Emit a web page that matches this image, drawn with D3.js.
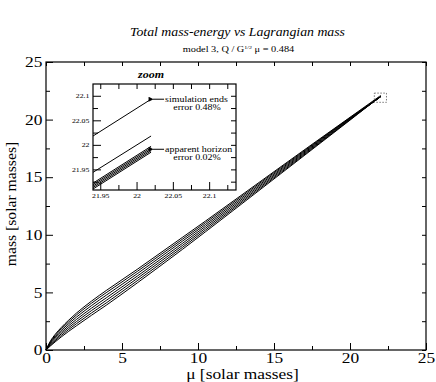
<!DOCTYPE html>
<html>
<head>
<meta charset="utf-8">
<script src="https://cdn.jsdelivr.net/npm/d3@7"></script>
<style>
  body { margin: 0; background: #fff; }
  svg text { font-family: "Liberation Serif", "Times New Roman", serif; fill: #000; }
</style>
</head>
<body>
<div id="chart"></div>
<script>
// Lagrangian mass grid (solar masses)
const muGrid = [0, 0.3, 0.6, 1, 1.5, 2, 3, 4, 5, 6, 7.5, 9, 10.5, 12.5, 15, 17.5, 20, 21.94, 22.02];

// total mass-energy for each run
const runSimEnds = [0, 0.8, 1.35, 1.95, 2.6, 3.2, 4.25, 5.2, 6.1, 7.0, 8.4, 9.8, 11.2, 13.1, 15.48, 17.85, 20.2, 22.018, 22.093];
const runSecond  = [0, 0.73, 1.25, 1.83, 2.45, 3.04, 4.07, 5.01, 5.91, 6.82, 8.23, 9.64, 11.06, 12.98, 15.39, 17.78, 20.16, 21.944, 22.018];
const runC       = [0, 0.66, 1.14, 1.69, 2.29, 2.85, 3.86, 4.79, 5.7, 6.62, 8.04, 9.47, 10.9, 12.84, 15.28, 17.71, 20.12, 21.922, 21.997];
const runD       = [0, 0.58, 1.03, 1.54, 2.12, 2.65, 3.64, 4.56, 5.48, 6.41, 7.84, 9.28, 10.74, 12.7, 15.17, 17.63, 20.08, 21.919, 21.994];
const runE       = [0, 0.51, 0.91, 1.4, 1.95, 2.46, 3.43, 4.34, 5.27, 6.21, 7.65, 9.1, 10.58, 12.56, 15.06, 17.55, 20.03, 21.916, 21.991];
const runF       = [0, 0.43, 0.8, 1.26, 1.79, 2.28, 3.22, 4.12, 5.06, 6.01, 7.46, 8.93, 10.42, 12.43, 14.95, 17.47, 19.99, 21.913, 21.988];
const runG       = [0, 0.36, 0.7, 1.13, 1.63, 2.1, 3.02, 3.92, 4.86, 5.82, 7.28, 8.76, 10.27, 12.3, 14.85, 17.4, 19.95, 21.91, 21.985];
const allRuns = [runSimEnds, runSecond, runC, runD, runE, runF, runG];

// main axes
const mainTicks = [0, 5, 10, 15, 20, 25];
const mainMinor = [2.5, 7.5, 12.5, 17.5, 22.5];

// zoom window drawn on main plot [x0, x1, y0, y1]
const zoomBox = [21.6, 22.4, 21.5, 22.3];

// inset axes
const insetXTicks = [21.95, 22, 22.05, 22.1];
const insetXMinor = [21.975, 22.025, 22.075, 22.125];
const insetYTicks = [21.95, 22, 22.05, 22.1];
const insetYMinor = [21.925, 21.975, 22.025, 22.075];

const width = 436, height = 382;
const stretch = 1.2; // the original glyphs are wider than tall
const svg = d3.select("#chart").append("svg")
  .attr("width", width).attr("height", height);

// horizontal text, widened like the original
function label(g, tx, ty, str, size, anchor) {
  return g.append("text")
    .attr("transform", `translate(${tx},${ty}) scale(${stretch},1)`)
    .attr("text-anchor", anchor || "middle")
    .style("font-size", size + "px")
    .text(str);
}

const margin = { top: 62, right: 10, bottom: 32, left: 46 };
const x = d3.scaleLinear().domain([0, 25]).range([margin.left, width - margin.right]);
const y = d3.scaleLinear().domain([0, 25]).range([height - margin.bottom, margin.top]);

// titles
label(svg, 237.5, 36, "Total mass-energy vs Lagrangian mass", 11.5).style("font-style", "italic");
const sub = label(svg, 238.5, 52, "", 8.6);
sub.append("tspan").text("model 3, Q / G");
sub.append("tspan").attr("dy", -3).style("font-size", "5px").text("1/2");
sub.append("tspan").attr("dy", 3).text(" \u03bc = 0.484");

// frame with inward ticks on all four sides
function frameAxes(g, xs, ys, xt, xm, yt, ym, bigLen, smallLen, fmt, fs, pad) {
  const x0 = xs.range()[0], x1 = xs.range()[1], y0 = ys.range()[0], y1 = ys.range()[1];
  g.append("g").attr("transform", `translate(0,${y0})`)
    .call(d3.axisBottom(xs).tickValues(xt).tickSizeInner(-bigLen).tickSizeOuter(0).tickFormat(fmt).tickPadding(pad));
  g.append("g").attr("transform", `translate(0,${y0})`)
    .call(d3.axisBottom(xs).tickValues(xm).tickSizeInner(-smallLen).tickSizeOuter(0).tickFormat(""));
  g.append("g").attr("transform", `translate(0,${y1})`)
    .call(d3.axisTop(xs).tickValues(xt.concat(xm)).tickSizeInner(-smallLen).tickSizeOuter(0).tickFormat(""));
  g.append("g").attr("transform", `translate(${x0},0)`)
    .call(d3.axisLeft(ys).tickValues(yt).tickSizeInner(-bigLen).tickSizeOuter(0).tickFormat(fmt).tickPadding(pad));
  g.append("g").attr("transform", `translate(${x0},0)`)
    .call(d3.axisLeft(ys).tickValues(ym).tickSizeInner(-smallLen).tickSizeOuter(0).tickFormat(""));
  g.append("g").attr("transform", `translate(${x1},0)`)
    .call(d3.axisRight(ys).tickValues(yt.concat(ym)).tickSizeInner(-smallLen).tickSizeOuter(0).tickFormat(""));
  g.selectAll(".domain").remove();
  g.selectAll("g").attr("font-family", null);
  g.selectAll(".tick line").attr("stroke", "#000");
  g.selectAll(".tick text").style("font-size", fs).attr("transform", `scale(${stretch},1)`);
  g.append("rect").attr("x", x0).attr("y", y1).attr("width", x1 - x0).attr("height", y0 - y1)
    .attr("fill", "none").attr("stroke", "#000").attr("stroke-width", 1.2);
}

const mainG = svg.append("g");
frameAxes(mainG, x, y, mainTicks, mainMinor, mainTicks, mainMinor, 7, 4, d3.format("d"), "14.5px", 3);

// curves
const line = d3.line().x((d, i) => x(muGrid[i])).y(d => y(d)).curve(d3.curveMonotoneX);
svg.append("g").selectAll("path").data(allRuns).join("path")
  .attr("d", line).attr("fill", "none").attr("stroke", "#000").attr("stroke-width", 1);

// zoom box
svg.append("rect")
  .attr("x", x(zoomBox[0])).attr("y", y(zoomBox[3]))
  .attr("width", x(zoomBox[1]) - x(zoomBox[0])).attr("height", y(zoomBox[2]) - y(zoomBox[3]))
  .attr("fill", "none").attr("stroke", "#555").attr("stroke-width", 0.8).attr("stroke-dasharray", "1.5,1.5");

// axis labels
svg.append("text").attr("transform", "translate(16,204) rotate(-90) scale(1.12,1)").attr("text-anchor", "middle")
  .style("font-size", "14px").text("mass [solar masses]");
label(svg, 242.5, 379, "\u03bc  [solar masses]", 14.5);

// inset
const xi = d3.scaleLinear().domain([21.94, 22.137]).range([93, 236]);
const yi = d3.scaleLinear().domain([21.908, 22.124]).range([190, 84]);
const insetG = svg.append("g");
insetG.append("rect").attr("x", 93).attr("y", 84).attr("width", 143).attr("height", 106).attr("fill", "#fff");
svg.append("defs").append("clipPath").attr("id", "insetClip")
  .append("rect").attr("x", 93).attr("y", 84).attr("width", 143).attr("height", 106);
const lineI = d3.line().x((d, i) => xi(muGrid[i])).y(d => yi(d));
insetG.append("g").attr("clip-path", "url(#insetClip)")
  .selectAll("path").data(allRuns).join("path")
  .attr("d", d => lineI(d)).attr("fill", "none").attr("stroke", "#000").attr("stroke-width", 1);
frameAxes(insetG, xi, yi, insetXTicks, insetXMinor, insetYTicks, insetYMinor, 8, 5, d => String(+d.toFixed(3)), "6.5px", 3);

label(insetG, 151, 78, "zoom", 10).style("font-style", "italic").style("font-weight", "bold");

// annotations
svg.append("defs").append("marker").attr("id", "arr").attr("viewBox", "0 0 10 10")
  .attr("refX", 1).attr("refY", 5).attr("markerWidth", 6).attr("markerHeight", 5).attr("orient", "auto-start-reverse")
  .append("path").attr("d", "M10,0 L0,5 L10,10 z").attr("fill", "#000");
const notes = [
  { tx: 22.02, ty: 22.093, l1: "simulation ends", l2: "error 0.48%" },
  { tx: 22.02, ty: 21.991, l1: "apparent horizon", l2: "error 0.02%" }
];
notes.forEach(n => {
  const ax = xi(n.tx) + 2, ay = yi(n.ty);
  insetG.append("line").attr("x1", ax + 11).attr("y1", ay).attr("x2", ax).attr("y2", ay)
    .attr("stroke", "#000").attr("stroke-width", 1).attr("marker-end", "url(#arr)");
  label(insetG, ax + 12, ay + 2.5, n.l1, 8.3, "start");
  label(insetG, ax + 44, ay + 10.5, n.l2, 8.3);
});
</script>
</body>
</html>
